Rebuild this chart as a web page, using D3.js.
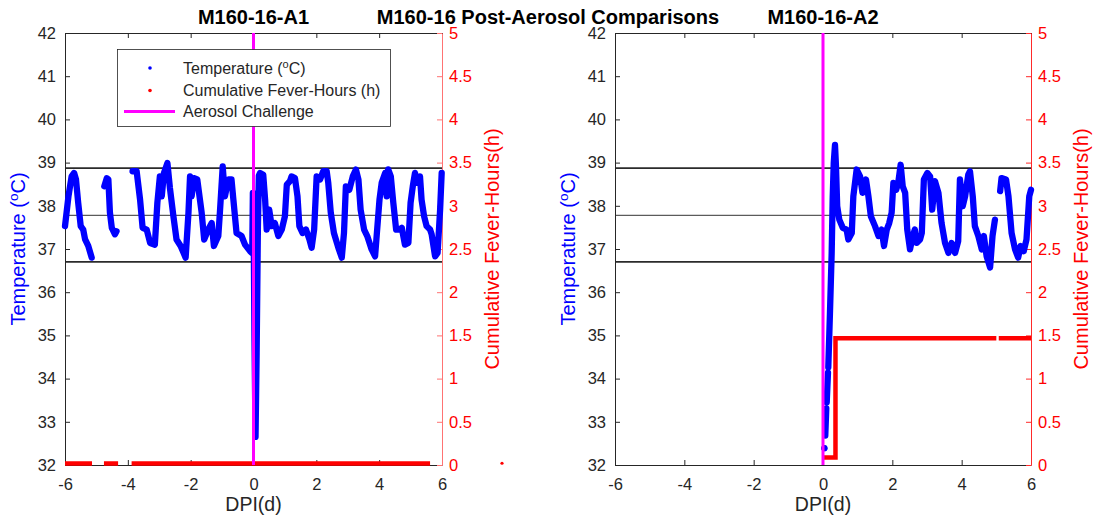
<!DOCTYPE html>
<html>
<head>
<meta charset="utf-8">
<script src="https://cdn.jsdelivr.net/npm/d3@7"></script>
<style>
  body { margin: 0; background: #fff; }
  svg { display: block; font-family: "Liberation Sans", Arial, Helvetica, sans-serif; }
</style>
</head>
<body>
<svg id="chart" width="1095" height="521"></svg>
<script>
// ---- axis ticks ----
const dayTicks = [-6, -4, -2, 0, 2, 4, 6];
const tempTicks = [32, 33, 34, 35, 36, 37, 38, 39, 40, 41, 42];
const feverTicks = [0, 0.5, 1, 1.5, 2, 2.5, 3, 3.5, 4, 4.5, 5];
const feverTickLabels = ["0", "0.5", "1", "1.5", "2", "2.5", "3", "3.5", "4", "4.5", "5"];

// ---- reference temperature lines (°C) ----
const bandLines = [36.7, 38.87];
const baselineMean = [37.78];
const challengeDay = 0;

// ---- M160-16-A1 telemetry: day post-infection, body temperature (NaN = gap in record) ----
const a1Day = [-6.00, -5.89, -5.79, -5.71, -5.65, -5.58, -5.50, -5.42, -5.36, -5.26, -5.15,
  -4.95,
  -4.75, -4.67, -4.62, -4.57, -4.51, -4.41, -4.36,
  -4.10,
  -3.85, -3.72, -3.61, -3.53, -3.40, -3.29, -3.14, -3.06, -2.98, -2.92, -2.85, -2.74, -2.66,
  -2.55, -2.45, -2.32, -2.16, -2.07, -2.02, -1.97, -1.89, -1.79, -1.65, -1.57, -1.44, -1.33,
  -1.26, -1.12, -1.07, -0.98, -0.91, -0.80, -0.70, -0.64, -0.54, -0.38, -0.27, -0.11, -0.04,
  -0.02, 0.01, 0.03, 0.065, 0.10, 0.14, 0.17, 0.21, 0.31, 0.37, 0.42, 0.50, 0.58, 0.68, 0.79,
  0.90, 1.00, 1.06, 1.16, 1.21, 1.32, 1.40, 1.46, 1.56, 1.67, 1.78, 1.85, 1.93, 2.01, 2.12,
  2.22, 2.33, 2.38, 2.46, 2.56, 2.70, 2.81, 2.88, 2.94, 3.05, 3.16, 3.26, 3.34, 3.41, 3.52,
  3.62, 3.76, 3.87, 3.92, 4.01, 4.08, 4.19, 4.24, 4.29, 4.37, 4.45, 4.54, 4.64, 4.72, 4.82,
  4.93, 5.00, 5.07, 5.14, 5.21, 5.30, 5.35, 5.43, 5.51, 5.62, 5.67, 5.78, 5.86, 5.94, 5.99];
const a1Temp = [37.53, 38.22, 38.68, 38.76, 38.61, 38.07, 37.53, 37.45, 37.22, 37.07, 36.80,
  NaN,
  38.45, 38.64, 38.61, 37.84, 37.49, 37.34, 37.41,
  NaN,
  38.80, 38.80, 38.14, 37.49, 37.45, 37.14, 37.10, 38.07, 38.68, 38.22, 38.76, 38.99, 38.41,
  37.76, 37.22, 37.07, 36.80, 37.84, 38.68, 38.22, 38.64, 38.61, 37.84, 37.22, 37.45, 37.60,
  37.07, 37.30, 37.84, 38.91, 38.22, 38.61, 38.61, 38.14, 37.37, 37.30, 37.10, 36.95, 36.90,
  38.30, 37.00, 35.00, 32.65, 34.60, 37.50, 38.70, 38.76, 38.72, 38.14, 37.45, 37.91, 37.53,
  37.60, 37.30, 37.45, 37.76, 38.49, 38.57, 38.68, 38.64, 38.22, 37.53, 37.37, 37.45, 37.22,
  37.03, 37.45, 38.68, 38.61, 38.80, 38.80, 38.53, 37.84, 37.37, 37.03, 36.80, 37.37, 38.45,
  38.37, 38.68, 38.84, 38.61, 37.91, 37.45, 37.30, 36.99, 36.83, 37.30, 38.14, 38.53, 38.76,
  38.22, 38.84, 38.68, 38.07, 37.45, 37.45, 37.49, 37.10, 37.14, 38.07, 38.45, 38.76, 38.53,
  38.68, 38.14, 37.76, 37.53, 37.45, 37.34, 36.83, 36.91, 37.91, 38.76];

// ---- M160-16-A1 cumulative fever-hours ----
const a1FeverDay = [-6.00, -5.14, -4.95, -4.76, -4.31, -4.10, -3.88, 5.62];
const a1FeverHours = [0, 0, NaN, 0, 0, NaN, 0, 0];
const a1StrayDay = [7.91];
const a1StrayHours = [0.02];

// ---- M160-16-A2 telemetry ----
const a2Day = [0.04, 0.055, 0.066, 0.095, 0.10, 0.107, 0.144, 0.148, 0.153, 0.20, 0.25, 0.28,
  0.31, 0.346, 0.375, 0.41, 0.47, 0.57, 0.68, 0.73, 0.83, 0.875, 0.97, 1.07, 1.14, 1.24,
  1.31, 1.38, 1.50, 1.60, 1.69, 1.76, 1.84, 1.91, 1.98, 2.03, 2.11, 2.17, 2.24, 2.30, 2.37,
  2.43, 2.51, 2.59, 2.65, 2.70, 2.80, 2.85, 2.91, 3.01, 3.09, 3.15, 3.23, 3.33, 3.42, 3.52,
  3.62, 3.71, 3.81, 3.90, 3.95, 4.03, 4.10, 4.19, 4.24, 4.32, 4.38, 4.48, 4.58, 4.64, 4.72,
  4.82, 4.89, 4.96, 5.03, 5.11, 5.15, 5.28, 5.35, 5.44, 5.54, 5.63, 5.70, 5.79, 5.87, 5.95, 6.00];
const a2Temp = [32.39, NaN, 32.68, 33.31, NaN, 33.45, 34.14, NaN, 34.26, 35.50, 36.90, 38.20,
  39.00, 39.41, 38.91, 37.99, 37.68, 37.49, 37.45, 37.22, 37.37, 38.22, 38.84, 38.68, 38.30,
  38.61, 38.22, 37.76, 37.53, 37.30, 37.45, 37.07, 37.45, 37.60, 37.84, 38.53, 38.37, 38.53,
  38.95, 38.45, 38.30, 37.45, 36.99, 37.30, 37.45, 37.14, 37.22, 37.37, 38.61, 38.76, 38.68,
  37.91, 38.57, 38.30, 37.60, 37.14, 36.91, 37.14, 36.91, 37.18, 38.61, 37.99, 38.22, 38.72,
  38.80, 38.22, 37.53, 37.30, 36.99, 37.30, 36.83, 36.57, 37.30, 37.68, NaN, 38.34, 38.64,
  38.61, 38.22, 37.37, 36.99, 36.80, 37.07, 36.95, 37.22, 38.22, 38.37];

// ---- M160-16-A2 cumulative fever-hours ----
const a2FeverDay = [0.01, 0.36, 0.36, 5.00, 5.03, 5.07, 6.00];
const a2FeverHours = [0.07, 0.07, 1.45, 1.45, NaN, 1.45, 1.45];

// ---- text ----
const figureTitle = "M160-16 Post-Aerosol Comparisons";
const panelTitles = ["M160-16-A1", "M160-16-A2"];
const xLabel = "DPI(d)";
const rightLabel = "Cumulative Fever-Hours(h)";
const legendLabels = ["Cumulative Fever-Hours (h)", "Aerosol Challenge"];

// ---- colours ----
const BLUE = "#0000ff", RED = "#ff0000", MAGENTA = "#ff00ff", AXIS = "#262626";

const svg = d3.select("#chart");
const plotTop = 33, plotBottom = 465;

const panels = [
  { title: panelTitles[0], x0: 65, x1: 442, day: a1Day, temp: a1Temp,
    fDay: a1FeverDay, fVal: a1FeverHours, sDay: a1StrayDay, sVal: a1StrayHours,
    rightAxisColor: "#ff7373", legend: true },
  { title: panelTitles[1], x0: 615, x1: 1031, day: a2Day, temp: a2Temp,
    fDay: a2FeverDay, fVal: a2FeverHours, sDay: [], sVal: [],
    rightAxisColor: "#ff2a2a", legend: false }
];

panels.forEach(p => {
  const g = svg.append("g");
  const x = d3.scaleLinear().domain([-6, 6]).range([p.x0, p.x1]);
  const yT = d3.scaleLinear().domain([32, 42]).range([plotBottom, plotTop]);
  const yF = d3.scaleLinear().domain([0, 5]).range([plotBottom, plotTop]);

  // reference lines
  g.selectAll("line.band").data(bandLines).join("line")
    .attr("x1", p.x0).attr("x2", p.x1)
    .attr("y1", d => yT(d)).attr("y2", d => yT(d))
    .attr("stroke", "#2b2b2b").attr("stroke-width", 1.8);
  g.selectAll("line.mean").data(baselineMean).join("line")
    .attr("x1", p.x0).attr("x2", p.x1)
    .attr("y1", d => yT(d)).attr("y2", d => yT(d))
    .attr("stroke", "#333").attr("stroke-width", 1);

  // axes (plain hyphen for negative ticks)
  const fmt = d => String(d);
  const xb = d3.axisBottom(x).tickValues(dayTicks).tickSize(-5).tickSizeOuter(0)
    .tickPadding(13).tickFormat(fmt);
  g.append("g").attr("transform", `translate(0,${plotBottom})`).call(xb);
  const xt = d3.axisTop(x).tickValues(dayTicks).tickSize(-5).tickSizeOuter(0).tickFormat("");
  g.append("g").attr("transform", `translate(0,${plotTop})`).call(xt);
  const yl = d3.axisLeft(yT).tickValues(tempTicks).tickSize(-5).tickSizeOuter(0)
    .tickPadding(9).tickFormat(fmt);
  g.append("g").attr("transform", `translate(${p.x0},0)`).call(yl);
  const yr = d3.axisRight(yF).tickValues(feverTicks).tickSize(-5).tickSizeOuter(0).tickPadding(7)
    .tickFormat((d, i) => feverTickLabels[i]);
  const gr = g.append("g").attr("class", "raxis").attr("transform", `translate(${p.x1},0)`).call(yr);

  g.selectAll("g.tick text").attr("font-size", 16.5).attr("fill", AXIS)
    .attr("font-family", "Liberation Sans, Arial, sans-serif");
  g.selectAll("path.domain, g.tick line").attr("stroke", AXIS);
  gr.selectAll("text").attr("fill", RED);
  gr.selectAll("path.domain, g.tick line").attr("stroke", p.rightAxisColor);

  // cumulative fever-hours
  const fPts = p.fDay.map((d, i) => [d, p.fVal[i]]);
  g.append("path")
    .attr("d", d3.line().defined(d => !isNaN(d[1])).x(d => x(d[0])).y(d => yF(d[1]) - 1.5)(fPts))
    .attr("fill", "none").attr("stroke", RED).attr("stroke-width", 4.5)
    .attr("stroke-linejoin", "miter").attr("stroke-linecap", "butt");
  g.selectAll("circle.stray").data(p.sDay.map((d, i) => [d, p.sVal[i]])).join("circle")
    .attr("cx", d => x(d[0])).attr("cy", d => yF(d[1])).attr("r", 1.6).attr("fill", RED);

  // body temperature
  const tPts = p.day.map((d, i) => [d, p.temp[i]]);
  g.append("path")
    .attr("d", d3.line().defined(d => !isNaN(d[1])).x(d => x(d[0])).y(d => yT(d[1]))(tPts))
    .attr("fill", "none").attr("stroke", BLUE).attr("stroke-width", 6.3)
    .attr("stroke-linejoin", "round").attr("stroke-linecap", "round");
  // isolated samples between gaps
  const lone = tPts.filter((d, i) => !isNaN(d[1]) &&
    (i === 0 || isNaN(tPts[i - 1][1])) && (i === tPts.length - 1 || isNaN(tPts[i + 1][1])));
  g.selectAll("circle.lone").data(lone).join("circle")
    .attr("cx", d => x(d[0])).attr("cy", d => yT(d[1])).attr("r", 3).attr("fill", BLUE);

  // aerosol challenge
  g.append("line")
    .attr("x1", x(challengeDay)).attr("x2", x(challengeDay))
    .attr("y1", plotTop).attr("y2", plotBottom)
    .attr("stroke", MAGENTA).attr("stroke-width", 3);

  // titles & labels
  const cx = (p.x0 + p.x1) / 2;
  g.append("text").attr("x", cx).attr("y", 23.5).attr("text-anchor", "middle")
    .attr("font-size", 20).attr("font-weight", "bold").attr("fill", "#000").text(p.title);
  g.append("text").attr("x", cx).attr("y", 511).attr("text-anchor", "middle")
    .attr("font-size", 19.5).attr("fill", AXIS).text(xLabel);

  const lt = g.append("text").attr("transform", `translate(${p.x0 - 40},${(plotTop + plotBottom) / 2}) rotate(-90)`)
    .attr("text-anchor", "middle").attr("font-size", 20).attr("fill", BLUE);
  lt.append("tspan").text("Temperature (");
  lt.append("tspan").attr("font-size", 13.5).attr("dy", -7.5).text("o");
  lt.append("tspan").attr("dy", 7.5).text("C)");

  g.append("text").attr("transform", `translate(${p.x1 + 57},${(plotTop + plotBottom) / 2}) rotate(-90)`)
    .attr("text-anchor", "middle").attr("font-size", 20).attr("fill", RED).text(rightLabel);

  // legend
  if (p.legend) {
    const lg = g.append("g");
    lg.append("rect").attr("x", 117.5).attr("y", 49.5).attr("width", 273).attr("height", 77)
      .attr("fill", "#fff").attr("stroke", AXIS).attr("stroke-width", 0.8);
    const rows = [68, 90.5, 111.5];
    lg.append("circle").attr("cx", 150).attr("cy", rows[0]).attr("r", 1.8).attr("fill", BLUE);
    lg.append("circle").attr("cx", 150).attr("cy", rows[1]).attr("r", 1.8).attr("fill", RED);
    lg.append("line").attr("x1", 124).attr("x2", 175).attr("y1", rows[2]).attr("y2", rows[2])
      .attr("stroke", MAGENTA).attr("stroke-width", 3);
    const t0 = lg.append("text").attr("x", 183).attr("y", rows[0]).attr("dy", "0.35em")
      .attr("font-size", 16).attr("fill", AXIS);
    t0.append("tspan").text("Temperature (");
    t0.append("tspan").attr("font-size", 11).attr("dy", -6).text("o");
    t0.append("tspan").attr("dy", 6).text("C)");
    legendLabels.forEach((s, i) => {
      lg.append("text").attr("x", 183).attr("y", rows[i + 1]).attr("dy", "0.35em")
        .attr("font-size", 16).attr("fill", AXIS).text(s);
    });
  }
});

// figure title
svg.append("text").attr("x", 548).attr("y", 23.5).attr("text-anchor", "middle")
  .attr("font-size", 20).attr("font-weight", "bold").attr("fill", "#000").text(figureTitle);
</script>
</body>
</html>
